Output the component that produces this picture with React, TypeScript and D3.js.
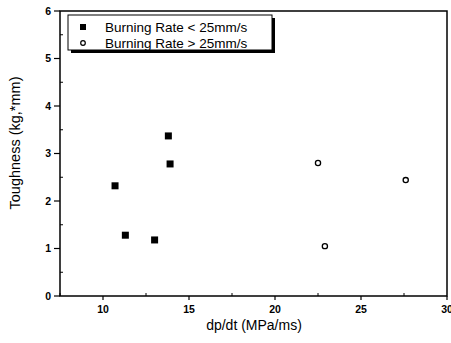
import React, { useRef, useEffect } from 'react';
import * as d3 from 'd3';

const lowX = [10.7, 11.3, 13.0, 13.8, 13.9];
const lowY = [2.32, 1.28, 1.18, 3.37, 2.78];
const highX = [22.5, 22.9, 27.6];
const highY = [2.8, 1.05, 2.44];
const xTicks = [10, 15, 20, 25, 30];
const yTicks = [0, 1, 2, 3, 4, 5, 6];
const legendLabels = ['Burning Rate < 25mm/s', 'Burning Rate > 25mm/s'];

export default function App() {
  const ref = useRef<SVGSVGElement>(null);

  useEffect(() => {
    const svg = d3.select(ref.current);
    svg.selectAll('*').remove();

    const x = d3.scaleLinear().domain([7.5, 30]).range([60, 447]);
    const y = d3.scaleLinear().domain([0, 6]).range([296, 11]);
    const font = 'Liberation Sans, Arial, sans-serif';

    // frame
    svg.append('rect')
      .attr('x', x(7.5)).attr('y', y(6))
      .attr('width', x(30) - x(7.5)).attr('height', y(0) - y(6))
      .attr('fill', 'none').attr('stroke', '#000').attr('stroke-width', 1.5);

    // x axis ticks
    const xAx = svg.append('g').attr('transform', `translate(0,${y(0)})`);
    xAx.selectAll('.maj').data(xTicks).enter().append('line')
      .attr('x1', d => x(d)).attr('x2', d => x(d)).attr('y1', 0).attr('y2', 4)
      .attr('stroke', '#000').attr('stroke-width', 1.2);
    xAx.selectAll('.min').data(d3.range(7.5, 30, 2.5).filter(d => d % 5 !== 0)).enter().append('line')
      .attr('x1', d => x(d)).attr('x2', d => x(d)).attr('y1', 0).attr('y2', -3)
      .attr('stroke', '#000').attr('stroke-width', 1);
    xAx.selectAll('text').data(xTicks).enter().append('text')
      .attr('x', d => x(d)).attr('y', 17)
      .attr('text-anchor', 'middle')
      .style('font-family', font).style('font-size', '10.5px').style('font-weight', 'bold')
      .text(d => d);

    // y axis ticks
    const yAx = svg.append('g').attr('transform', `translate(${x(7.5)},0)`);
    yAx.selectAll('.maj').data(yTicks).enter().append('line')
      .attr('x1', -6).attr('x2', 0).attr('y1', d => y(d)).attr('y2', d => y(d))
      .attr('stroke', '#000').attr('stroke-width', 1.2);
    yAx.selectAll('.min').data(d3.range(0.5, 6, 1)).enter().append('line')
      .attr('x1', 0).attr('x2', 3).attr('y1', d => y(d)).attr('y2', d => y(d))
      .attr('stroke', '#000').attr('stroke-width', 1);
    yAx.selectAll('text').data(yTicks).enter().append('text')
      .attr('x', -9).attr('y', d => y(d)).attr('dy', '0.35em')
      .attr('text-anchor', 'end')
      .style('font-family', font).style('font-size', '10.5px').style('font-weight', 'bold')
      .text(d => d);

    // axis titles
    svg.append('text')
      .attr('x', 254).attr('y', 330)
      .attr('text-anchor', 'middle')
      .style('font-family', font).style('font-size', '14px')
      .text('dp/dt (MPa/ms)');
    svg.append('text')
      .attr('transform', `translate(20,143) rotate(-90)`)
      .attr('text-anchor', 'middle')
      .style('font-family', font).style('font-size', '14.5px')
      .text('Toughness (kg,*mm)');

    // points
    const low = lowX.map((v, i) => [v, lowY[i]]);
    const high = highX.map((v, i) => [v, highY[i]]);
    svg.selectAll('.sq').data(low).enter().append('rect')
      .attr('x', d => x(d[0]) - 3.5).attr('y', d => y(d[1]) - 3.5)
      .attr('width', 7).attr('height', 7).attr('fill', '#000');
    svg.selectAll('.ci').data(high).enter().append('circle')
      .attr('cx', d => x(d[0])).attr('cy', d => y(d[1])).attr('r', 2.6)
      .attr('fill', '#fff').attr('stroke', '#000').attr('stroke-width', 1.3);

    // legend
    const lg = svg.append('g');
    lg.append('rect').attr('x', 71).attr('y', 18).attr('width', 204).attr('height', 35).attr('fill', '#000');
    lg.append('rect').attr('x', 68).attr('y', 15).attr('width', 204).attr('height', 35)
      .attr('fill', '#fff').attr('stroke', '#000').attr('stroke-width', 1);
    lg.append('rect').attr('x', 80).attr('y', 24).attr('width', 6).attr('height', 6).attr('fill', '#000');
    lg.append('circle').attr('cx', 83).attr('cy', 43).attr('r', 2.3)
      .attr('fill', '#fff').attr('stroke', '#000').attr('stroke-width', 1.2);
    lg.selectAll('text').data(legendLabels).enter().append('text')
      .attr('x', 105).attr('y', (d, i) => 27 + i * 16).attr('dy', '0.35em')
      .style('font-family', font).style('font-size', '13.5px')
      .text(d => d);
  }, []);

  return (
    <svg ref={ref} width={451} height={343} style={{ position: 'absolute', left: 0, top: 0, background: '#fff' }} />
  );
}
